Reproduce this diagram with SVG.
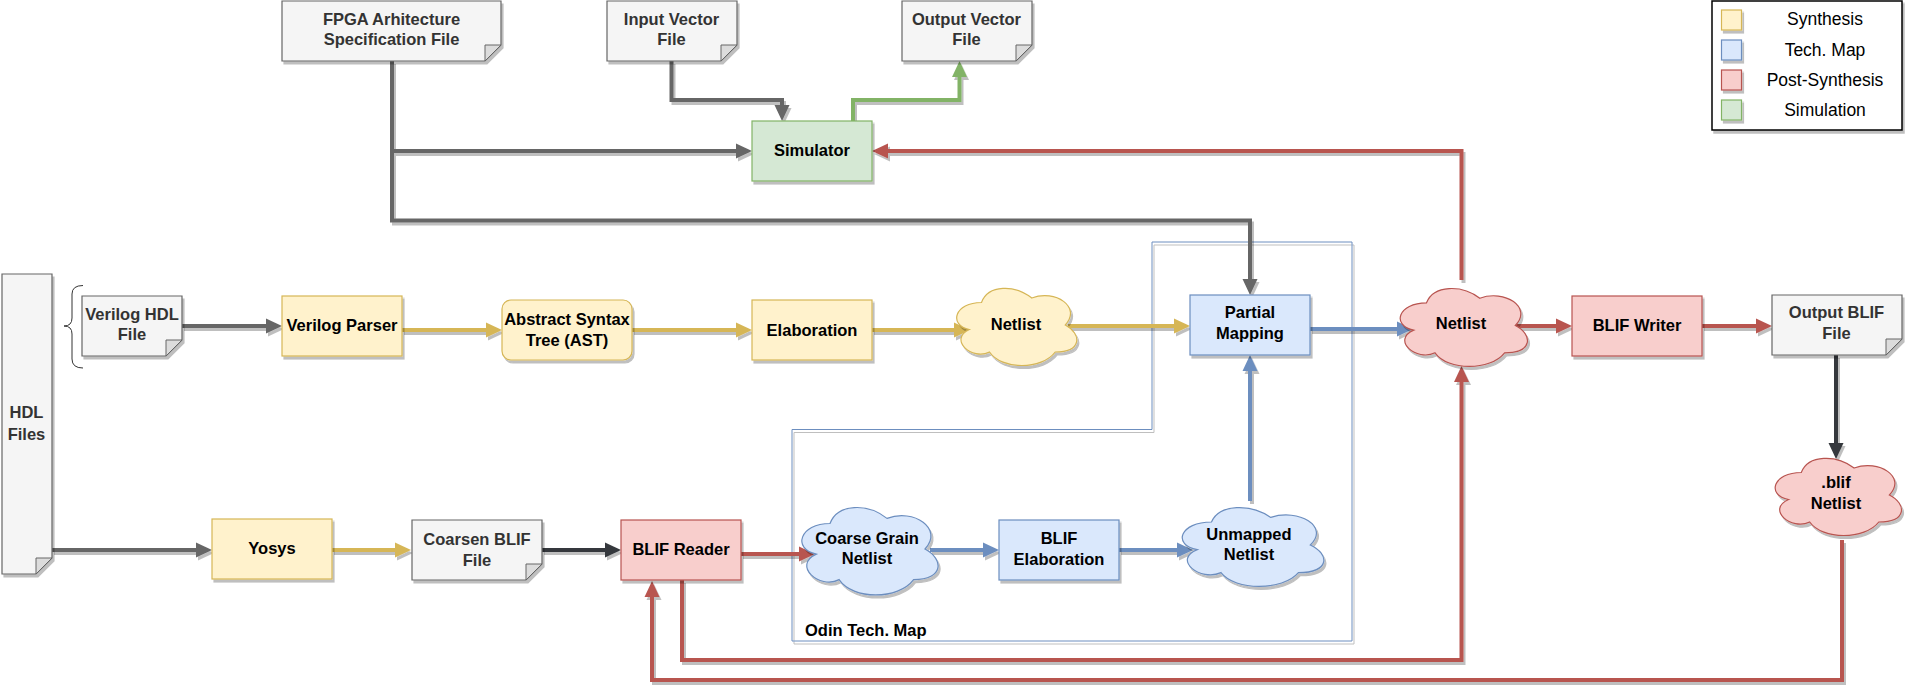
<svg xmlns="http://www.w3.org/2000/svg" width="1910" height="698" viewBox="0 0 1910 698">
<defs>
<style>
.sh{filter:url(#sh)}
.y{fill:#fff2cc;stroke:#d6b656;stroke-width:1.2}
.b{fill:#dae8fc;stroke:#6c8ebf;stroke-width:1.2}
.r{fill:#f8cecc;stroke:#b85450;stroke-width:1.2}
.g{fill:#d5e8d4;stroke:#82b366;stroke-width:1.2}
.f{fill:#f5f5f5;stroke:#666666;stroke-width:1.2}
.fold{fill:#dcdcdc;stroke:#666666;stroke-width:1}
.t{font-family:"Liberation Sans",Arial,Helvetica,sans-serif;font-size:16.5px;font-weight:bold;text-anchor:middle;fill:#000}
.tf{fill:#333333}
.lg{font-family:"Liberation Sans",Arial,Helvetica,sans-serif;font-size:17.5px;text-anchor:middle;fill:#000}
.c{fill:none;stroke-width:4;stroke-linejoin:miter;stroke-linecap:butt}
.cG{stroke:#666666}
.cD{stroke:#36393d}
.cY{stroke:#d6b656}
.cB{stroke:#6c8ebf}
.cR{stroke:#b85450}
.cV{stroke:#82b366}
</style>
<filter id="sh" filterUnits="userSpaceOnUse" x="-20" y="-20" width="1960" height="740">
<feOffset in="SourceAlpha" dx="2" dy="2.5" result="o"/>
<feColorMatrix in="o" type="matrix" values="0 0 0 0 0  0 0 0 0 0  0 0 0 0 0  0 0 0 0.25 0" result="s"/>
<feMerge><feMergeNode in="s"/><feMergeNode in="SourceGraphic"/></feMerge>
</filter>
<marker id="aG" markerUnits="userSpaceOnUse" markerWidth="16" markerHeight="15" refX="10" refY="7.5" orient="auto" overflow="visible"><path d="M0,0 L16,7.5 L0,15 Z" fill="#666666"/></marker>
<marker id="aD" markerUnits="userSpaceOnUse" markerWidth="16" markerHeight="15" refX="10" refY="7.5" orient="auto" overflow="visible"><path d="M0,0 L16,7.5 L0,15 Z" fill="#36393d"/></marker>
<marker id="aY" markerUnits="userSpaceOnUse" markerWidth="16" markerHeight="15" refX="10" refY="7.5" orient="auto" overflow="visible"><path d="M0,0 L16,7.5 L0,15 Z" fill="#d6b656"/></marker>
<marker id="aB" markerUnits="userSpaceOnUse" markerWidth="16" markerHeight="15" refX="10" refY="7.5" orient="auto" overflow="visible"><path d="M0,0 L16,7.5 L0,15 Z" fill="#6c8ebf"/></marker>
<marker id="aR" markerUnits="userSpaceOnUse" markerWidth="16" markerHeight="15" refX="10" refY="7.5" orient="auto" overflow="visible"><path d="M0,0 L16,7.5 L0,15 Z" fill="#b85450"/></marker>
<marker id="aV" markerUnits="userSpaceOnUse" markerWidth="16" markerHeight="15" refX="10" refY="7.5" orient="auto" overflow="visible"><path d="M0,0 L16,7.5 L0,15 Z" fill="#82b366"/></marker>
</defs>
<rect width="1910" height="698" fill="#ffffff"/>

<g id="odin-tech-map">
<polygon class="sh" points="792,429.5 1152,429.5 1152,242 1352,242 1352,641 792,641" fill="none" stroke="#6c8ebf" stroke-width="1"/>
<text class="t" x="805" y="635.5" style="text-anchor:start">Odin Tech. Map</text>
</g>

<g id="connectors" class="sh">
<path class="c cG" d="M392,61 V151 H746" marker-end="url(#aG)"/>
<path class="c cG" d="M392,61 V220.5 H1250 V289" marker-end="url(#aG)"/>
<path class="c cG" d="M671.5,61 V100 H782 V115" marker-end="url(#aG)"/>
<path class="c cV" d="M853,121 V100 H959.5 V67" marker-end="url(#aV)"/>
<path class="c cR" d="M1461.5,280 V151 H878" marker-end="url(#aR)"/>
<path class="c cG" d="M52,550 H206" marker-end="url(#aG)"/>
<path class="c cG" d="M182,326 H276" marker-end="url(#aG)"/>
<path class="c cY" d="M402,330 H496" marker-end="url(#aY)"/>
<path class="c cY" d="M632,330 H746" marker-end="url(#aY)"/>
<path class="c cY" d="M872,330 H964" marker-end="url(#aY)"/>
<path class="c cY" d="M1068,326 H1184" marker-end="url(#aY)"/>
<path class="c cB" d="M1310,329 H1407" marker-end="url(#aB)"/>
<path class="c cR" d="M1514,326 H1566" marker-end="url(#aR)"/>
<path class="c cR" d="M1702,326 H1766" marker-end="url(#aR)"/>
<path class="c cD" d="M1836,355 V453" marker-end="url(#aD)"/>
<path class="c cY" d="M332,550 H405" marker-end="url(#aY)"/>
<path class="c cD" d="M542,550 H615" marker-end="url(#aD)"/>
<path class="c cR" d="M741,554 H809" marker-end="url(#aR)"/>
<path class="c cB" d="M930,550 H993" marker-end="url(#aB)"/>
<path class="c cB" d="M1119,550 H1187" marker-end="url(#aB)"/>
<path class="c cB" d="M1250,501 V361" marker-end="url(#aB)"/>
<path class="c cR" d="M682,580 V660 H1461.5 V372" marker-end="url(#aR)"/>
<path class="c cR" d="M1842,540 V680 H652 V587" marker-end="url(#aR)"/>
</g>

<g id="fpga-spec">
<g class="sh"><path class="f" d="M282,1 H501 V45 L485,61 H282 Z"/><path class="fold" d="M485,61 V45 H501 Z"/></g>
<text class="t tf" x="391.5" y="24.5">FPGA Arhitecture</text>
<text class="t tf" x="391.5" y="45">Specification File</text>
</g>

<g id="input-vector">
<g class="sh"><path class="f" d="M607,1 H737 V45 L721,61 H607 Z"/><path class="fold" d="M721,61 V45 H737 Z"/></g>
<text class="t tf" x="671.5" y="24.5">Input Vector</text>
<text class="t tf" x="671.5" y="45">File</text>
</g>

<g id="output-vector">
<g class="sh"><path class="f" d="M902,1 H1032 V45 L1016,61 H902 Z"/><path class="fold" d="M1016,61 V45 H1032 Z"/></g>
<text class="t tf" x="966.5" y="24.5">Output Vector</text>
<text class="t tf" x="966.5" y="45">File</text>
</g>

<g id="simulator">
<rect class="g sh" x="752" y="121" width="120" height="60"/>
<text class="t" x="812" y="155.5">Simulator</text>
</g>

<g id="legend">
<rect class="sh" x="1712" y="1" width="190" height="129" fill="#ffffff" stroke="#000000" stroke-width="1.5"/>
<rect class="y sh" x="1721.5" y="10" width="20" height="20"/>
<rect class="b sh" x="1721.5" y="40" width="20" height="20"/>
<rect class="r sh" x="1721.5" y="70" width="20" height="20"/>
<rect class="g sh" x="1721.5" y="100" width="20" height="20"/>
<text class="lg" x="1825" y="24.8">Synthesis</text>
<text class="lg" x="1825" y="55.8">Tech. Map</text>
<text class="lg" x="1825" y="85.8">Post-Synthesis</text>
<text class="lg" x="1825" y="115.8">Simulation</text>
</g>

<g id="hdl-files">
<g class="sh"><path class="f" d="M2,274 H52 V558 L36,574 H2 Z"/><path class="fold" d="M36,574 V558 H52 Z"/></g>
<text class="t tf" x="26.5" y="418">HDL</text>
<text class="t tf" x="26.5" y="439.5">Files</text>
</g>

<g id="verilog-hdl-file">
<path d="M83,285.5 Q72,285.5 72,294 V318 Q72,326 64,326 Q72,326 72,334 V359 Q72,368 83,368" fill="none" stroke="#333333" stroke-width="1"/>
<g class="sh"><path class="f" d="M82,296 H182 V340 L166,356 H82 Z"/><path class="fold" d="M166,356 V340 H182 Z"/></g>
<text class="t tf" x="132" y="320">Verilog HDL</text>
<text class="t tf" x="132" y="340">File</text>
</g>

<g id="verilog-parser">
<rect class="y sh" x="282" y="296" width="120" height="60"/>
<text class="t" x="342" y="330.5">Verilog Parser</text>
</g>

<g id="ast">
<rect class="y sh" x="502" y="300" width="130" height="60" rx="9" ry="9"/>
<text class="t" x="567" y="325">Abstract Syntax</text>
<text class="t" x="567" y="345.5">Tree (AST)</text>
</g>

<g id="elaboration">
<rect class="y sh" x="752" y="300" width="120" height="60"/>
<text class="t" x="812" y="335.5">Elaboration</text>
</g>

<g id="netlist-synth">
<path class="y sh" d="M981.5,302.5 C954.7,302.5 948,325 969.4,329.5 C948,339.4 972.1,361 989.5,352 C1001.6,370 1041.8,370 1055.2,352 C1082,352 1082,334 1065.3,325 C1082,307 1055.2,289 1031.8,298 C1015,284.5 988.2,284.5 981.5,302.5 Z"/>
<text class="t" x="1016" y="330">Netlist</text>
</g>

<g id="partial-mapping">
<rect class="b sh" x="1190" y="295" width="120" height="60"/>
<text class="t" x="1250" y="318">Partial</text>
<text class="t" x="1250" y="339">Mapping</text>
</g>

<g id="netlist-post">
<path class="r sh" d="M1426.5,302.8 C1398.1,302.8 1391,325.5 1413.7,330.1 C1391,340.1 1416.6,361.9 1435,352.8 C1447.8,371 1490.4,371 1504.6,352.8 C1533,352.8 1533,334.6 1515.3,325.5 C1533,307.3 1504.6,289.1 1479.8,298.2 C1462,284.6 1433.6,284.6 1426.5,302.8 Z"/>
<text class="t" x="1461" y="329">Netlist</text>
</g>

<g id="blif-writer">
<rect class="r sh" x="1572" y="296" width="130" height="60"/>
<text class="t" x="1637" y="330.5">BLIF Writer</text>
</g>

<g id="output-blif">
<g class="sh"><path class="f" d="M1772,295 H1902 V339 L1886,355 H1772 Z"/><path class="fold" d="M1886,355 V339 H1902 Z"/></g>
<text class="t tf" x="1836.5" y="318">Output BLIF</text>
<text class="t tf" x="1836.5" y="339">File</text>
</g>

<g id="blif-netlist">
<path class="r sh" d="M1801.3,472.5 C1773.1,472.5 1766,495 1788.6,499.5 C1766,509.4 1791.4,531 1809.7,522 C1822.4,540 1864.7,540 1878.8,522 C1907,522 1907,504 1889.4,495 C1907,477 1878.8,459 1854.1,468 C1836.5,454.5 1808.3,454.5 1801.3,472.5 Z"/>
<text class="t" x="1836" y="488">.blif</text>
<text class="t" x="1836" y="509">Netlist</text>
</g>

<g id="yosys">
<rect class="y sh" x="212" y="519" width="120" height="60"/>
<text class="t" x="272" y="554">Yosys</text>
</g>

<g id="coarsen-blif">
<g class="sh"><path class="f" d="M412,520 H542 V564 L526,580 H412 Z"/><path class="fold" d="M526,580 V564 H542 Z"/></g>
<text class="t tf" x="477" y="545">Coarsen BLIF</text>
<text class="t tf" x="477" y="565.5">File</text>
</g>

<g id="blif-reader">
<rect class="r sh" x="621" y="520" width="120" height="60"/>
<text class="t" x="681" y="555">BLIF Reader</text>
</g>

<g id="coarse-grain-netlist">
<path class="b sh" d="M830,523.5 C799.6,523.5 792,549 816.3,554.1 C792,565.3 819.4,589.8 839.1,579.6 C852.8,600 898.4,600 913.6,579.6 C944,579.6 944,559.2 925,549 C944,528.6 913.6,508.2 887,518.4 C868,503.1 837.6,503.1 830,523.5 Z"/>
<text class="t" x="867" y="543.5">Coarse Grain</text>
<text class="t" x="867" y="563.5">Netlist</text>
</g>

<g id="blif-elaboration">
<rect class="b sh" x="999" y="520" width="120" height="60"/>
<text class="t" x="1059" y="544">BLIF</text>
<text class="t" x="1059" y="565">Elaboration</text>
</g>

<g id="unmapped-netlist">
<path class="b sh" d="M1211.5,522 C1179.9,522 1172,545 1197.3,549.6 C1172,559.7 1200.4,581.8 1221,572.6 C1235.2,591 1282.6,591 1298.4,572.6 C1330,572.6 1330,554.2 1310.3,545 C1330,526.6 1298.4,508.2 1270.8,517.4 C1251,503.6 1219.4,503.6 1211.5,522 Z"/>
<text class="t" x="1249" y="540">Unmapped</text>
<text class="t" x="1249" y="560">Netlist</text>
</g>
</svg>
